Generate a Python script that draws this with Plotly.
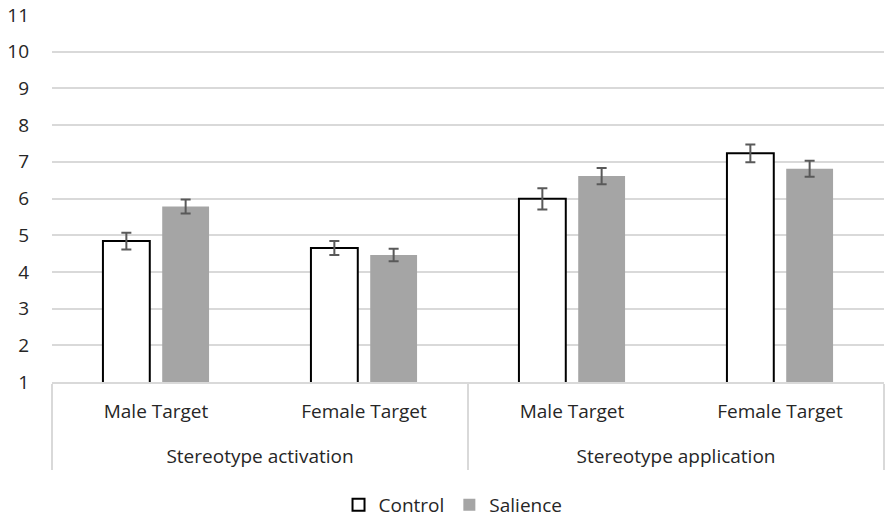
import plotly.graph_objects as go

groups = ["Stereotype activation", "Stereotype activation", "Stereotype application", "Stereotype application"]
targets = ["Male Target", "Female Target", "Male Target", "Female Target"]
control = [4.84, 4.65, 5.99, 7.23]
control_err = [0.23, 0.19, 0.29, 0.24]
salience = [5.78, 4.46, 6.61, 6.81]
salience_err = [0.19, 0.17, 0.22, 0.22]
y_ticks = list(range(1, 12))

font_family = "Open Sans, Lato, Arial, sans-serif"
txt = "#262626"

# blank second line under the inner labels opens up space between the two label rows
inner = [t + "<br><span style='font-size:34px'> </span>" for t in targets]

fig = go.Figure()
fig.add_trace(go.Bar(
    name="Control", x=[groups, inner], y=control,
    marker=dict(color="white", line=dict(color="black", width=2)),
    error_y=dict(type="data", array=control_err, color="#595959", thickness=2, width=5),
))
fig.add_trace(go.Bar(
    name="Salience", x=[groups, inner], y=salience,
    marker=dict(color="#A5A5A5", line=dict(width=0)),
    error_y=dict(type="data", array=salience_err, color="#595959", thickness=2, width=5),
))

fig.update_layout(
    width=887, height=517,
    margin=dict(l=52, r=3, t=15, b=135, autoexpand=False),
    plot_bgcolor="white", paper_bgcolor="white",
    barmode="group", bargap=0.43, bargroupgap=0.21,
    font=dict(family=font_family, size=19, color=txt),
    legend=dict(orientation="h", x=0.482, xanchor="center", y=-0.335, yanchor="middle",
                font=dict(size=19, color=txt), itemwidth=30, traceorder="normal"),
    showlegend=True,
)
fig.update_yaxes(range=[1, 11], tickvals=y_ticks, showgrid=True, gridcolor="#D9D9D9", gridwidth=1.5,
                 zeroline=False, ticks="", ticklabelstandoff=22, showline=False, automargin=False,
                 ticklabeloverflow="allow")
fig.update_xaxes(type="multicategory", showline=True, linecolor="#D9D9D9", linewidth=1.5,
                 showdividers=True, dividercolor="#D9D9D9", dividerwidth=1.5,
                 ticks="", tickfont=dict(size=19, color=txt), range=[-0.5, 3.5],
                 ticklabelstandoff=11, automargin=False)

# remove the default 8px page margin so the figure fills the window exactly
fig.write_html("out.html", config={"displayModeBar": False},
               post_script="document.body.style.margin='0';")
